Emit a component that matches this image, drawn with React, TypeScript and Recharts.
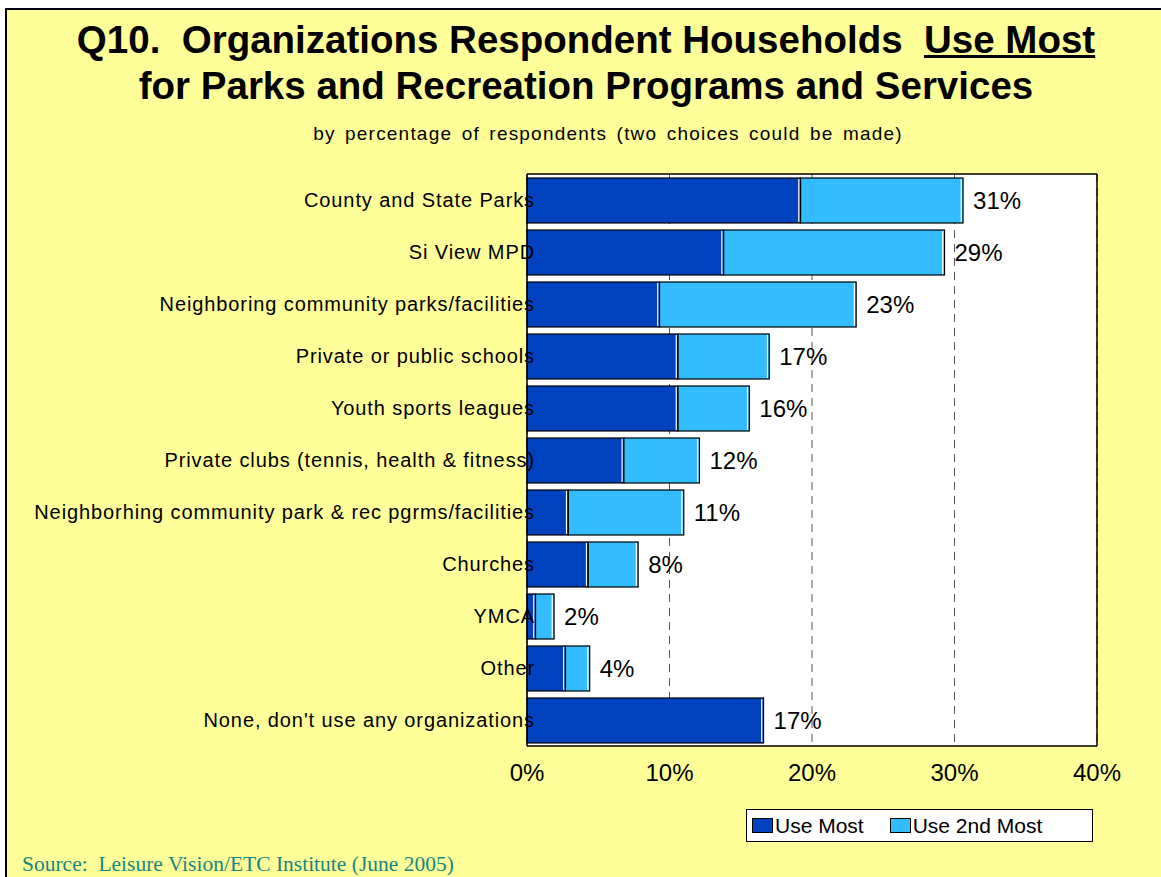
import React from 'react';
import {
  BarChart, Bar, XAxis, YAxis, CartesianGrid, Legend, LabelList,
} from 'recharts';

const categories = [
  'County and State Parks',
  'Si View MPD',
  'Neighboring community parks/facilities',
  'Private or public schools',
  'Youth sports leagues',
  'Private clubs (tennis, health & fitness)',
  'Neighborhing community park & rec pgrms/facilities',
  'Churches',
  'YMCA',
  'Other',
  "None, don't use any organizations",
];

const useMost = [19.2, 13.8, 9.3, 10.6, 10.6, 6.8, 2.9, 4.3, 0.6, 2.7, 16.6];
const use2ndMost = [11.4, 15.5, 13.8, 6.4, 5.0, 5.3, 8.1, 3.5, 1.3, 1.7, 0];

const xTicks = [0, 10, 20, 30, 40];

const DARK = '#0041BE';
const LIGHT = '#33BDFF';
const FONT = '"Liberation Sans", Arial, sans-serif';

const data = categories.map((name, i) => ({
  name,
  most: useMost[i],
  second: use2ndMost[i],
  total: useMost[i] + use2ndMost[i],
}));

const CategoryTick = ({ x, y, payload }: any) => (
  <text x={x + 16} y={y} textAnchor="end" dominantBaseline="central"
    fontFamily={FONT} fontSize={20} letterSpacing={0.9} fill="#000">
    {payload.value}
  </text>
);

const PercentTick = ({ x, y, payload }: any) => (
  <text x={x} y={y + 27} textAnchor="middle" fontFamily={FONT} fontSize={24} fill="#000">
    {payload.value}%
  </text>
);

// excel-ish segment: black outline with a thin white line inside the right edge
const Segment = ({ x, y, width, height, fill }: any) => {
  if (!width || width <= 0) return null;
  return (
    <g>
      <rect x={x} y={y} width={width} height={height} fill={fill} stroke="#000" strokeWidth={1.2} />
      {width > 4 && (
        <line x1={x + width - 1.8} y1={y + 1} x2={x + width - 1.8} y2={y + height - 1}
          stroke="#fff" strokeWidth={1.2} />
      )}
    </g>
  );
};

// placed from the first segment so rows without a second segment still get a label
const TotalLabel = ({ x, y, width, height, index }: any) => {
  const row = data[index];
  const end = x + (width * row.total) / row.most;
  return (
    <text x={end + 10} y={y + height / 2} dominantBaseline="central"
      fontFamily={FONT} fontSize={24} fill="#000">
      {Math.round(row.total)}%
    </text>
  );
};

const LegendBox = () => (
  <div style={{
    width: 347, height: 33, border: '1.5px solid #000', background: '#fff',
    display: 'flex', alignItems: 'center', fontFamily: FONT, fontSize: 21, color: '#000',
    boxSizing: 'border-box',
  }}>
    <span style={{ width: 19, height: 13, background: DARK, border: '1px solid #000', marginLeft: 5, marginRight: 2 }} />
    <span>Use Most</span>
    <span style={{ width: 19, height: 13, background: LIGHT, border: '1px solid #000', marginLeft: 26, marginRight: 2 }} />
    <span>Use 2nd Most</span>
  </div>
);

export default function App() {
  return (
    <div style={{ position: 'absolute', left: 0, top: 0, width: 1161, height: 877, background: '#fff', overflow: 'hidden' }}>
      <div style={{
        position: 'absolute', left: 5, top: 8, right: 0, bottom: 0, background: '#FFFF99',
        borderTop: '2px solid #000', borderLeft: '2px solid #000',
      }} />
      <div style={{
        position: 'absolute', left: 0, width: 1172, top: 17, textAlign: 'center',
        fontFamily: FONT, fontWeight: 700, fontSize: 38.5, lineHeight: '46px', color: '#000',
      }}>
        <div>Q10.&nbsp; Organizations Respondent Households&nbsp; <span style={{ textDecoration: 'underline' }}>Use Most</span></div>
        <div>for Parks and Recreation Programs and Services</div>
      </div>
      <div style={{
        position: 'absolute', left: 0, width: 1216, top: 123, textAlign: 'center',
        fontFamily: FONT, fontSize: 19, letterSpacing: 1.2, wordSpacing: 3, color: '#000',
      }}>
        by percentage of respondents (two choices could be made)
      </div>
      <div style={{
        position: 'absolute', left: 22, top: 852, fontFamily: '"Liberation Serif", "Times New Roman", serif',
        fontSize: 21.5, color: '#16877E', whiteSpace: 'nowrap',
      }}>
        Source:&nbsp; Leisure Vision/ETC Institute (June 2005)
      </div>
      <div style={{ position: 'absolute', left: 0, top: 0 }}>
        <BarChart width={1161} height={877} data={data} layout="vertical"
          margin={{ top: 173, right: 63, bottom: 58, left: 0 }}>
          <CartesianGrid horizontal={false} stroke="#555" strokeDasharray="8 6" fill="#fff" />
          <XAxis type="number" domain={[0, 40]} ticks={xTicks} height={40}
            axisLine={{ stroke: '#000', strokeWidth: 1.5 }} tickLine={false} tick={<PercentTick />} />
          <XAxis xAxisId="top" orientation="top" type="number" domain={[0, 40]} height={1}
            axisLine={{ stroke: '#000', strokeWidth: 1.5 }} tickLine={false} tick={false} />
          <YAxis type="category" dataKey="name" width={527}
            axisLine={{ stroke: '#000', strokeWidth: 1.5 }} tickLine={false} tick={<CategoryTick />} />
          <YAxis yAxisId="right" orientation="right" type="category" dataKey="name" width={1}
            axisLine={{ stroke: '#000', strokeWidth: 1.5 }} tickLine={false} tick={false} />
          <Legend content={<LegendBox />}
            wrapperStyle={{ position: 'absolute', left: 746, top: 809, width: 347, height: 33 }} />
          <Bar dataKey="most" name="Use Most" stackId="a" fill={DARK} shape={<Segment />}
            barSize={45} isAnimationActive={false}>
            <LabelList dataKey="total" content={<TotalLabel />} />
          </Bar>
          <Bar dataKey="second" name="Use 2nd Most" stackId="a" fill={LIGHT} shape={<Segment />}
            barSize={45} isAnimationActive={false} />
        </BarChart>
      </div>
    </div>
  );
}
